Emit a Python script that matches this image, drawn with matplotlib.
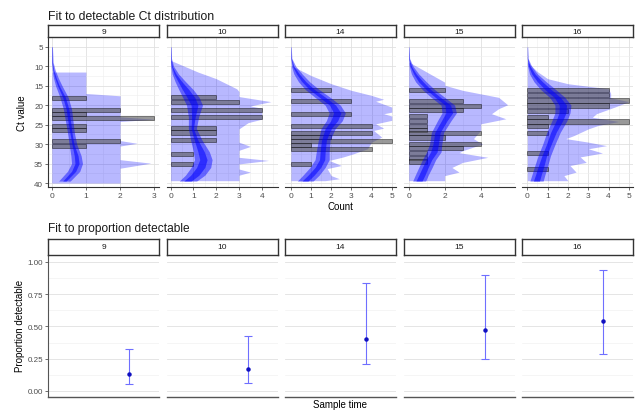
import matplotlib.pyplot as plt
import numpy as np

plt.rcParams['font.family'] = ['Liberation Sans', 'DejaVu Sans']

times = [9, 10, 14, 15, 16]

# observed Ct values, binned (bin centre -> count)
bar_ct = {
    9: [18.1, 21.2, 22.3, 23.4, 25.3, 26.3, 29.3, 30.4],
    10: [18.0, 19.1, 21.2, 23.1, 25.8, 27.0, 28.9, 32.6, 35.1],
    14: [16.1, 19.0, 22.2, 25.4, 27.1, 28.1, 29.3, 30.2, 31.2, 35.2],
    15: [16.1, 18.9, 20.2, 21.3, 22.8, 24.0, 25.3, 26.3, 27.2, 28.3,
         30.0, 31.1, 32.3, 33.5, 34.5],
    16: [16.1, 17.3, 18.8, 20.1, 21.6, 23.0, 24.2, 25.3, 27.1, 32.3, 36.4],
}
bar_n = {
    9: [1, 2, 1, 3, 1, 1, 2, 1],
    10: [2, 3, 4, 4, 2, 2, 2, 1, 1],
    14: [2, 3, 3, 4, 4, 2, 5, 1, 4, 1],
    15: [2, 3, 4, 3, 1, 1, 1, 1, 4, 2, 4, 3, 1, 1, 1],
    16: [4, 4, 5, 4, 2, 1, 5, 1, 1, 1, 1],
}

# posterior predictive upper envelope of the histogram
band_ct = {
    9: [11.5, 12, 17, 17.6, 23.0, 23.6, 24.2, 29.1, 29.8, 30.5, 34.0, 34.9, 36.2, 40.0],
    10: [8.5, 11.5, 13.2, 15.8, 16.5, 17.8, 19.1, 20.2, 20.8, 23.6, 24.5, 26.1, 29.5,
         30.6, 31.6, 33.4, 34.2, 35.1, 36.4, 37.2, 38.0, 39.4],
    14: [9.8, 12.4, 14.5, 16.2, 17.5, 18.5, 19.0, 20.5, 21.8, 22.2, 22.8, 23.9, 24.8,
         25.9, 26.5, 28.2, 29.5, 31.2, 32.5, 33.3, 34.2, 35.5, 36.3, 38.1, 38.9, 39.4],
    15: [8.9, 11.5, 14.1, 14.9, 16.2, 18.0, 19.9, 20.9, 22.2, 23.5, 24.8, 26.5, 28.6,
         30.0, 31.7, 32.2, 33.4, 34.7, 36.0, 37.2, 38.1, 39.4],
    16: [8.9, 11.4, 13.2, 14.5, 15.8, 17.0, 18.1, 19.1, 20.5, 22.2, 23.1, 24.2, 25.2,
         26.1, 27.8, 28.6, 29.5, 30.4, 31.2, 32.3, 33.3, 34.7, 35.5, 37.2, 38.1, 39.4],
}
band_hi = {
    9: [1, 1, 1, 2, 2, 3, 2, 2, 2.5, 2, 2, 2.9, 2, 2],
    10: [0, 1.2, 2.0, 2.9, 3.0, 3.0, 4.4, 3.5, 4.0, 4.0, 3.4, 3.0, 3.0,
         3.5, 3.0, 3.0, 4.3, 3.0, 3.0, 3.5, 3.0, 3.0],
    14: [0, 1, 2, 3, 4, 4.6, 4.2, 5, 5, 4.6, 5, 5, 4.2,
         4.6, 4.1, 4.5, 4.0, 3.8, 3.1, 2.6, 1.9, 2.5, 1.8, 2.0, 2.4, 1.7],
    15: [0, 1, 2, 2, 3, 5.0, 5.5, 5.0, 4.6, 5.4, 4.0, 4.0, 3.6,
         4.1, 3.0, 2.8, 4.4, 3.0, 2.4, 2.8, 2.0, 2.0],
    16: [0, 0.5, 1, 2, 4, 4.1, 4.1, 5, 4.3, 3.4, 3.2, 4.5, 3.5,
         3.0, 2.3, 1.9, 3.0, 3.9, 3.0, 3.7, 2.6, 2.9, 2.1, 2.4, 1.8, 2.0],
}

# fitted Ct density (scaled to counts), wide and narrow credible bands
dens_ct = {
    9: [5, 9, 11, 13, 15, 18, 21, 24, 27, 30, 33, 35, 37, 39.5],
    10: [5, 8, 10, 12, 14, 16, 18, 20, 23, 26, 29, 32, 34, 36, 38, 39.5],
    14: [5, 8, 10, 12, 14, 16, 18, 20, 22, 24, 26, 29, 32, 34, 36, 38, 39.5],
    15: [5, 8, 10, 12, 14, 16, 18, 20, 22, 24, 27, 30, 32, 34, 36, 38, 39.5],
    16: [5, 8, 10, 12, 14, 16, 18, 20, 22, 24, 27, 30, 33, 36, 38, 39.5],
}
outer_lo = {
    9: [0, 0, 0.01, 0.05, 0.11, 0.24, 0.34, 0.4, 0.46, 0.51, 0.56, 0.58, 0.46, 0.2],
    10: [0, 0, 0.01, 0.07, 0.2, 0.36, 0.53, 0.7, 0.78, 0.78, 0.88, 1.0, 1.05, 0.9, 0.65, 0.38],
    14: [0, 0, 0.03, 0.15, 0.38, 0.72, 1.2, 1.7, 1.9, 1.76, 1.5, 1.36, 1.26, 1.2, 0.95, 0.6, 0.32],
    15: [0, 0, 0.03, 0.15, 0.38, 0.76, 1.25, 1.8, 1.85, 1.6, 1.26, 1.16, 1.0, 0.76, 0.56, 0.36, 0.22],
    16: [0, 0, 0.02, 0.11, 0.33, 0.66, 1.1, 1.36, 1.36, 1.21, 0.96, 0.76, 0.53, 0.34, 0.22, 0.13],
}
outer_hi = {
    9: [0.02, 0.04, 0.1, 0.19, 0.3, 0.48, 0.58, 0.62, 0.66, 0.73, 0.86, 0.9, 0.82, 0.54],
    10: [0.02, 0.04, 0.13, 0.35, 0.66, 0.99, 1.25, 1.4, 1.23, 1.13, 1.38, 1.7, 1.82, 1.76, 1.5, 1.14],
    14: [0.02, 0.05, 0.24, 0.56, 0.93, 1.4, 1.95, 2.45, 2.7, 2.55, 2.2, 1.94, 1.9, 1.9, 1.7, 1.4, 1.1],
    15: [0.02, 0.05, 0.24, 0.56, 0.98, 1.44, 2.0, 2.55, 2.65, 2.35, 1.94, 1.84, 1.8, 1.5, 1.3, 1.08, 0.94],
    16: [0.02, 0.04, 0.21, 0.5, 0.93, 1.4, 1.85, 2.15, 2.1, 1.95, 1.62, 1.37, 1.14, 0.98, 0.86, 0.78],
}
inner_lo = {
    9: [0, 0, 0.03, 0.09, 0.17, 0.32, 0.42, 0.47, 0.53, 0.59, 0.66, 0.68, 0.58, 0.32],
    10: [0, 0, 0.04, 0.15, 0.33, 0.52, 0.72, 0.9, 0.92, 0.9, 1.04, 1.2, 1.28, 1.14, 0.88, 0.58],
    14: [0, 0, 0.08, 0.28, 0.55, 0.92, 1.42, 1.92, 2.12, 1.98, 1.7, 1.52, 1.45, 1.42, 1.2, 0.85, 0.55],
    15: [0, 0, 0.08, 0.28, 0.55, 0.97, 1.48, 2.02, 2.06, 1.82, 1.45, 1.35, 1.22, 0.97, 0.76, 0.56, 0.4],
    16: [0, 0, 0.06, 0.22, 0.5, 0.87, 1.32, 1.57, 1.56, 1.42, 1.15, 0.95, 0.72, 0.52, 0.4, 0.3],
}
inner_hi = {
    9: [0.01, 0.02, 0.06, 0.13, 0.22, 0.4, 0.5, 0.55, 0.59, 0.65, 0.77, 0.8, 0.7, 0.42],
    10: [0.01, 0.02, 0.07, 0.24, 0.5, 0.8, 1.06, 1.2, 1.08, 1.0, 1.2, 1.48, 1.6, 1.5, 1.24, 0.9],
    14: [0.01, 0.03, 0.15, 0.42, 0.75, 1.18, 1.72, 2.22, 2.48, 2.32, 2.0, 1.76, 1.7, 1.68, 1.48, 1.15, 0.85],
    15: [0.01, 0.03, 0.15, 0.42, 0.8, 1.23, 1.77, 2.33, 2.44, 2.13, 1.75, 1.65, 1.58, 1.28, 1.08, 0.9, 0.74],
    16: [0.01, 0.02, 0.14, 0.38, 0.75, 1.18, 1.63, 1.93, 1.9, 1.74, 1.42, 1.18, 0.95, 0.8, 0.68, 0.6],
}

# count axis per panel
count_lim = {9: (-0.11, 3.14), 10: (-0.18, 4.69), 14: (-0.29, 5.21),
             15: (-0.29, 5.88), 16: (-0.26, 5.2)}
count_ticks = {9: [0, 1, 2, 3], 10: [0, 1, 2, 3, 4], 14: [0, 1, 2, 3, 4, 5],
               15: [0, 2, 4], 16: [0, 1, 2, 3, 4, 5]}

# proportion detectable: median and interval
prop_mid = [0.13, 0.17, 0.40, 0.47, 0.54]
prop_lo = [0.05, 0.065, 0.205, 0.245, 0.29]
prop_hi = [0.325, 0.425, 0.835, 0.90, 0.935]

W, H = 639, 414
fig = plt.figure(figsize=(W / 100, H / 100), dpi=100)


def px_axes(x0, y0, x1, y1):
    return fig.add_axes([x0 / W, 1 - y1 / H, (x1 - x0) / W, (y1 - y0) / H])


def strip(x0, y0, x1, y1, label):
    s = px_axes(x0, y0, x1, y1)
    s.set_xticks([])
    s.set_yticks([])
    for sp in s.spines.values():
        sp.set_color('#333333')
        sp.set_linewidth(1.0)
    s.text(0.5, 0.5, str(label), ha='center', va='center', fontsize=6, color='#1a1a1a')


lefts = [48, 166.5, 285, 403.5, 522]
pw = 111
tick_kw = dict(labelsize=5.8, labelcolor='#4d4d4d', color='#333333', length=2, width=0.5, pad=1.5)

# top row: Ct distribution
for i, t in enumerate(times):
    x0 = lefts[i]
    ax = px_axes(x0, 38, x0 + pw, 188.3)
    strip(x0, 26, x0 + pw, 38, t)
    ax.set_axisbelow(True)
    ax.fill_betweenx(band_ct[t], 0, band_hi[t], color='blue', alpha=0.28, lw=0)
    ax.barh(bar_ct[t], bar_n[t], height=1.08, color='#555555', alpha=0.6,
            edgecolor='black', linewidth=0.5)
    ax.fill_betweenx(dens_ct[t], outer_lo[t], outer_hi[t], color='blue', alpha=0.45, lw=0)
    ax.fill_betweenx(dens_ct[t], inner_lo[t], inner_hi[t], color='blue', alpha=0.55, lw=0)

    ax.set_xlim(*count_lim[t])
    ax.set_ylim(41.1, 2.5)
    ax.set_xticks(count_ticks[t])
    step = count_ticks[t][1] - count_ticks[t][0]
    ax.set_xticks(np.arange(step / 2, count_lim[t][1], step), minor=True)
    ax.set_yticks([5, 10, 15, 20, 25, 30, 35, 40])
    ax.set_yticks(np.arange(7.5, 41, 5), minor=True)
    ax.grid(which='major', color='#e0e0e0', lw=0.6)
    ax.grid(which='minor', color='#eeeeee', lw=0.4)
    ax.tick_params(which='minor', length=0)
    ax.tick_params(**tick_kw)
    ax.tick_params(axis='x', labelsize=6)
    for side in ['top', 'right']:
        ax.spines[side].set_visible(False)
    ax.spines['bottom'].set_color('#333333')
    ax.spines['bottom'].set_linewidth(0.8)
    if i == 0:
        ax.spines['left'].set_color('#333333')
        ax.spines['left'].set_linewidth(0.8)
    else:
        ax.spines['left'].set_visible(False)
        ax.tick_params(axis='y', left=False, labelleft=False)

# bottom row: proportion detectable
for i, t in enumerate(times):
    x0 = lefts[i]
    ax = px_axes(x0, 256, x0 + pw, 398)
    strip(x0, 240, x0 + pw, 256, t)
    ax.set_axisbelow(True)
    ax.errorbar([t], [prop_mid[i]],
                yerr=[[prop_mid[i] - prop_lo[i]], [prop_hi[i] - prop_mid[i]]],
                fmt='none', ecolor='#6f6fff', elinewidth=0.8, capsize=3.2, capthick=0.8)
    ax.plot([t], [prop_mid[i]], 'o', color='#1010c0', markersize=2.2)
    ax.set_xlim(t - 2.7, t + 1.0)
    ax.set_ylim(-0.047, 1.054)
    ax.set_xticks([])
    ax.set_yticks([0, 0.25, 0.5, 0.75, 1.0])
    ax.set_yticklabels(['0.00', '0.25', '0.50', '0.75', '1.00'])
    ax.set_yticks(np.arange(0.125, 1.0, 0.25), minor=True)
    ax.grid(axis='y', which='major', color='#e0e0e0', lw=0.6)
    ax.grid(axis='y', which='minor', color='#eeeeee', lw=0.4)
    ax.tick_params(which='minor', length=0)
    ax.tick_params(**tick_kw)
    for side in ['top', 'right']:
        ax.spines[side].set_visible(False)
    ax.spines['bottom'].set_color('#555555')
    ax.spines['bottom'].set_linewidth(1.0)
    if i == 0:
        ax.spines['left'].set_color('#555555')
        ax.spines['left'].set_linewidth(0.8)
    else:
        ax.spines['left'].set_visible(False)
        ax.tick_params(axis='y', left=False, labelleft=False)

# titles and axis labels
fig.text(48 / W, 1 - 17 / H, 'Fit to detectable Ct distribution', fontsize=8.8, va='center', color='#1a1a1a')
fig.text(48 / W, 1 - 229 / H, 'Fit to proportion detectable', fontsize=8.6, va='center', color='#1a1a1a')
fig.text(22 / W, 1 - 113 / H, 'Ct value', fontsize=7, rotation=90, ha='center', va='center')
fig.text(20 / W, 1 - 326 / H, 'Proportion detectable', fontsize=7, rotation=90, ha='center', va='center')
fig.text(340 / W, 1 - 207 / H, 'Count', fontsize=7, ha='center', va='center')
fig.text(340 / W, 1 - 405 / H, 'Sample time', fontsize=7, ha='center', va='center')

fig.savefig('out.png', dpi=100)
